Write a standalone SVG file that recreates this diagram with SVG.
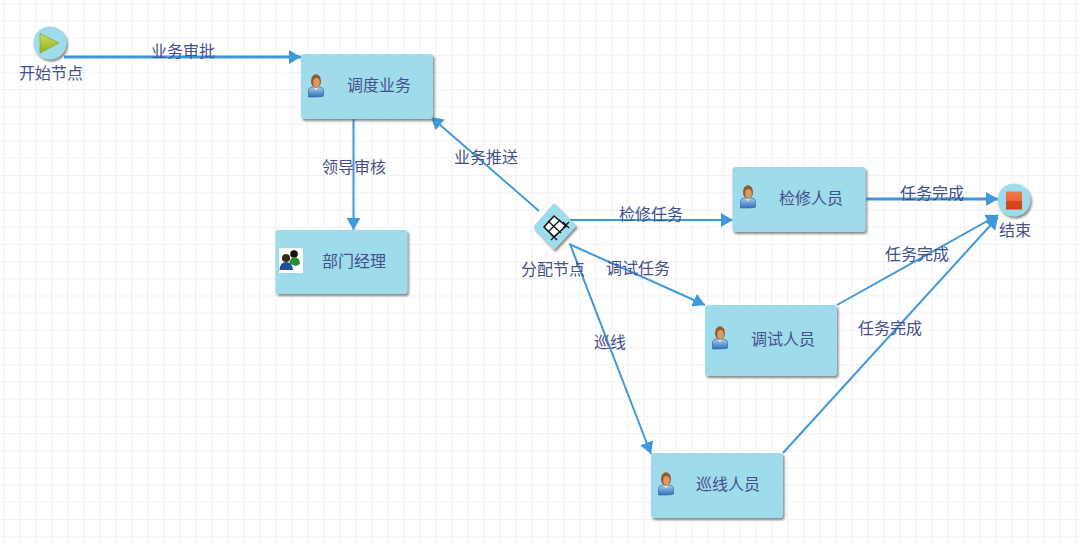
<svg xmlns="http://www.w3.org/2000/svg" width="1080" height="544" viewBox="0 0 1080 544">
<style>
text{font-family:"Noto Sans CJK SC","Liberation Sans",sans-serif;font-size:16px;fill:#45508a;text-anchor:middle}
.node{fill:#9edbeb;filter:url(#sh)}
.c{fill:none;stroke:#3f98dc;stroke-width:2}
.t{stroke:#3f98dc;stroke-width:3}
</style>
<defs>
<filter id="sh" x="-10%" y="-10%" width="125%" height="125%"><feDropShadow dx="1.5" dy="2" stdDeviation="1" flood-color="#555" flood-opacity=".7"/></filter>
<pattern id="grid" width="16" height="17.2" patternUnits="userSpaceOnUse" x="3" y="3">
<path d="M0.5 0V17.2M0 0.5H16" fill="none" stroke="#f1f2f3" stroke-width="1.2"/>
</pattern>
<marker id="a" markerUnits="userSpaceOnUse" markerWidth="14" markerHeight="14" refX="12" refY="7" orient="auto"><path d="M0 0L12 7L0 14Z" fill="#3f98dc"/></marker>
<linearGradient id="body" x1="0" y1="0" x2="0" y2="1"><stop offset="0" stop-color="#a9cdf0"/><stop offset="1" stop-color="#2f70bb"/></linearGradient>
<linearGradient id="play" x1="0" y1="0" x2="0" y2="1"><stop offset="0" stop-color="#d5e04c"/><stop offset="1" stop-color="#86b02a"/></linearGradient>
<linearGradient id="stop" x1="0" y1="0" x2="0" y2="1"><stop offset="0" stop-color="#ec7a4c"/><stop offset=".5" stop-color="#e86a3c"/><stop offset=".52" stop-color="#d9481c"/><stop offset="1" stop-color="#cf4418"/></linearGradient>
<g id="person">
<path d="M-7.500 15V9.500Q-7.500 6.500-3 6H3Q7.500 6.500 7.500 9.500V15Q7.500 16-7.500 16Z" fill="url(#body)" stroke="#2f6aae" stroke-width=".7"/>
<path d="M-2.500 6L0 9.500L2.500 6Z" fill="#f0e6d0"/>
<ellipse cx="0" cy="0" rx="5" ry="6.800" fill="#96592a"/>
<ellipse cx="0.500" cy="1.500" rx="3.300" ry="4.500" fill="#d89c62"/>
</g>
</defs>
<rect width="1080" height="544" fill="#fff"/>
<rect width="1080" height="544" fill="url(#grid)"/>
<g id="connectors">
<path class="c t" d="M64 57H301" marker-end="url(#a)"/>
<path class="c" d="M353.500 119V230" marker-end="url(#a)" stroke-width="2.500"/>
<path class="c" d="M539 211L431 117" marker-end="url(#a)"/>
<path class="c" d="M570 220H733" marker-end="url(#a)"/>
<path class="c" d="M569 244L705 305" marker-end="url(#a)"/>
<path class="c" d="M570 244L651 454" marker-end="url(#a)"/>
<path class="c t" d="M866 199H998" marker-end="url(#a)"/>
<path class="c" d="M837 305L998 215" marker-end="url(#a)"/>
<path class="c" d="M783 453L998 217" marker-end="url(#a)"/>
</g>
<g id="labels">
<text x="183" y="57">业务审批</text>
<text x="354" y="173">领导审核</text>
<text x="486" y="163">业务推送</text>
<text x="651" y="220">检修任务</text>
<text x="638" y="274">调试任务</text>
<text x="610" y="348">巡线</text>
<text x="932" y="199">任务完成</text>
<text x="917" y="260">任务完成</text>
<text x="890" y="334">任务完成</text>
</g>
<g id="start">
<circle class="node" cx="50" cy="43" r="16.500"/>
<path d="M40 33.500L59 43L40 53Z" fill="url(#play)" stroke="#8aa830" stroke-width=".8"/>
<text x="51" y="79">开始节点</text>
</g>
<g id="dispatch">
<rect class="node" x="301" y="54" width="132" height="65" rx="3"/>
<use href="#person" x="316" y="81"/>
<text x="379" y="91">调度业务</text>
</g>
<g id="manager">
<rect class="node" x="275.500" y="230" width="132" height="64" rx="3"/>
<rect x="279" y="248" width="24" height="25" fill="#fff"/>
<circle cx="286" cy="258" r="4" fill="#3a2414"/>
<path d="M279.500 270Q280 262 286 262Q292 262 293 270Z" fill="#1d4f9c"/>
<circle cx="294" cy="254" r="3.800" fill="#111"/>
<path d="M289 264Q290 257 295 257Q300 258 300 264L296 266Z" fill="#2e8a3a"/>
<text x="354" y="267">部门经理</text>
</g>
<g id="gateway">
<path class="node" d="M555 204L575.500 225Q576.500 226 575.500 227L555 249Q554 250 553 249L534 228Q533 227 534 226L553 204Q554 203 555 204Z"/>
<path d="M554 216L566 226L554 237L544 227Z" fill="#fff" stroke="#111" stroke-width="1.500"/>
<path d="M548 221L561 233M560 220L548 232M563 222L569 228M569 222L563 228M551 234L557 240M557 234L551 240" fill="none" stroke="#111" stroke-width="1.300"/>
<text x="553" y="275">分配节点</text>
</g>
<g id="repair">
<rect class="node" x="732.500" y="167" width="133" height="65" rx="3"/>
<use href="#person" x="748" y="192"/>
<text x="811" y="204">检修人员</text>
</g>
<g id="debug">
<rect class="node" x="705" y="305" width="132" height="71" rx="3"/>
<use href="#person" x="720" y="333"/>
<text x="783" y="345">调试人员</text>
</g>
<g id="patrol">
<rect class="node" x="651" y="453" width="132" height="65" rx="3"/>
<use href="#person" x="666" y="479"/>
<text x="728" y="490">巡线人员</text>
</g>
<g id="end">
<circle class="node" cx="1014" cy="200" r="16.500"/>
<rect x="1006" y="191.500" width="16" height="18" fill="url(#stop)"/>
<text x="1015" y="236">结束</text>
</g>
</svg>
